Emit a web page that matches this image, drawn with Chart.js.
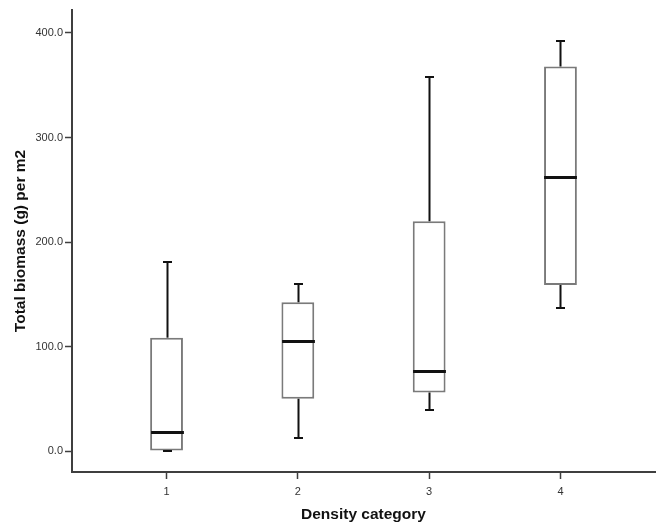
<!DOCTYPE html>
<html>
<head>
<meta charset="utf-8">
<script src="https://cdn.jsdelivr.net/npm/chart.js@4.4.1/dist/chart.umd.min.js"></script>
<style>
  html, body { margin: 0; padding: 0; background: #fff; }
  #wrap { width: 656px; height: 528px; }
</style>
</head>
<body>
<div id="wrap"><canvas id="boxChart"></canvas></div>
<script>
// box plot summary per density category
const categories = [1, 2, 3, 4];
const whiskerLow = [0, 12.5, 39.5, 136.5];
const quartile1 = [0, 50, 56, 159];
const medians = [18, 105.5, 76.5, 262.5];
const quartile3 = [108.5, 142.5, 220, 368];
const whiskerHigh = [181, 159.5, 358, 392.5];
const yTicks = [0, 100, 200, 300, 400];

const axisColor = '#3f3f3f';
const labelFont = { family: "'Liberation Sans', Arial, sans-serif", size: 11 };
const titleFont = { family: "'Liberation Sans', Arial, sans-serif", size: 15.5, weight: 'bold' };

// whiskers, caps and median lines on top of the boxes
const boxExtras = {
  id: 'boxExtras',
  afterDatasetsDraw(chart) {
    const { ctx, scales: { x, y } } = chart;
    const capHalf = 4.5;
    const boxHalf = x.getPixelForValue(1.125) - x.getPixelForValue(1);
    ctx.save();
    ctx.strokeStyle = '#111';
    ctx.lineCap = 'butt';
    categories.forEach((c, i) => {
      const cx = Math.round(x.getPixelForValue(c)) + 0.5;
      ctx.lineWidth = 2;
      ctx.beginPath();
      ctx.moveTo(cx, y.getPixelForValue(quartile3[i]));
      ctx.lineTo(cx, y.getPixelForValue(whiskerHigh[i]));
      ctx.moveTo(cx, y.getPixelForValue(quartile1[i]));
      ctx.lineTo(cx, y.getPixelForValue(whiskerLow[i]));
      ctx.stroke();
      ctx.beginPath();
      const top = Math.round(y.getPixelForValue(whiskerHigh[i]));
      const bot = Math.round(y.getPixelForValue(whiskerLow[i]));
      ctx.moveTo(cx - capHalf, top);
      ctx.lineTo(cx + capHalf, top);
      ctx.moveTo(cx - capHalf, bot);
      ctx.lineTo(cx + capHalf, bot);
      ctx.stroke();
      ctx.lineWidth = 3;
      const my = Math.round(y.getPixelForValue(medians[i])) + 0.5;
      ctx.beginPath();
      ctx.moveTo(cx - boxHalf, my);
      ctx.lineTo(cx + boxHalf, my);
      ctx.stroke();
    });
    ctx.restore();
  }
};

new Chart(document.getElementById('boxChart'), {
  type: 'bar',
  data: {
    datasets: [{
      data: categories.map((c, i) => ({ x: c, y: [quartile1[i], quartile3[i]] })),
      backgroundColor: '#ffffff',
      borderColor: '#7a7a7a',
      borderWidth: 2,
      borderSkipped: false,
      barPercentage: 0.25,
      categoryPercentage: 1
    }]
  },
  options: {
    responsive: true,
    maintainAspectRatio: false,
    animation: false,
    layout: { padding: { top: 10, right: 1 } },
    plugins: { legend: { display: false }, tooltip: { enabled: false } },
    scales: {
      x: {
        type: 'linear',
        offset: false,
        min: 0.28,
        max: 4.72,
        afterBuildTicks: s => { s.ticks = categories.map(v => ({ value: v })); },
        afterFit: s => { s.height = 56; },
        ticks: { color: '#333', font: labelFont, padding: 6, callback: v => String(v) },
        grid: { offset: false, drawOnChartArea: false, tickLength: 7, tickColor: axisColor, tickWidth: 1.5 },
        border: { color: axisColor, width: 2 },
        title: { display: true, text: 'Density category', color: '#111', font: titleFont, padding: { top: 0, bottom: 4 } }
      },
      y: {
        min: -20,
        max: 422,
        afterBuildTicks: s => { s.ticks = yTicks.map(v => ({ value: v })); },
        afterFit: s => { s.width = 72; },
        ticks: { color: '#333', font: labelFont, padding: 2, callback: v => Number(v).toFixed(1) },
        grid: { drawOnChartArea: false, tickLength: 7, tickColor: axisColor, tickWidth: 1.5 },
        border: { color: axisColor, width: 2 },
        title: { display: true, text: 'Total biomass (g) per m2', color: '#111', font: titleFont, padding: { top: 11, bottom: 0 } }
      }
    }
  },
  plugins: [boxExtras]
});
</script>
</body>
</html>
